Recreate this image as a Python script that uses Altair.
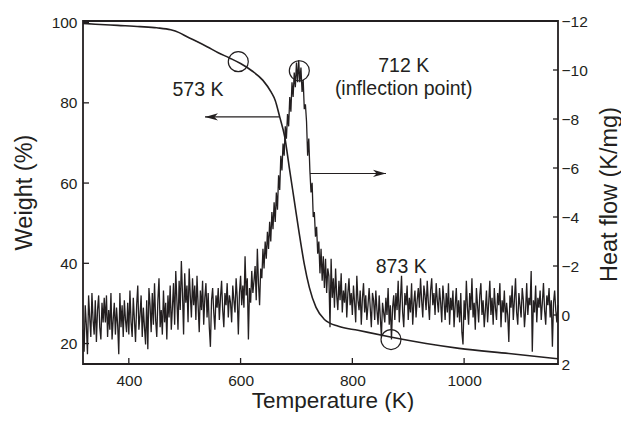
import altair as alt
import pandas as pd

INK = "#231f20"
FONT = "Liberation Sans"

# ---- Heat flow trace (K/mg), every 2 K starting at 318 K ----
HF_T_START = 318
HF_T_STEP = 2
heat_flow = [
    0.6, 1.5, -0.4, 0.4, 1.6, -0.8, 0.1, 0.9, -0.9, 0.2, 0.8, -0.6, 1.1, -0.2, -0.8, 0.5, 1.0, -0.5, 0.3, -0.7,
    0.3, -0.8, 0.9, -0.2, 0.6, -0.9, 1.0, 0.2, -0.5, 0.8, -0.3, 0.4, 1.6, -0.9, 0.5, -0.4, 0.9, -0.6, 0.2, 0.7,
    -0.5, 0.8, -1.0, 0.3, 0.9, -0.7, 0.2, 1.1, -0.4, -1.2, 0.6, 0.0, -0.8, 0.9, -0.3, 0.5, 1.2, -0.6, 1.4, -1.1,
    -0.4, 0.7, -0.9, 0.4, -1.3, 0.2, 0.9, -0.6, -1.5, 0.5, -0.2, 0.8, -1.0, 0.3, -0.5, 1.0, -0.8, 0.1, -1.2, 0.6,
    -0.3, -1.3, 0.4, -1.8, -0.6, 0.6, -1.4, -0.2, -2.2, -0.9, 0.8, -1.7, -0.5, -1.2, 0.3, -1.9, -0.8, 0.1, -1.5, -0.4,
    -1.2, 0.2, -1.6, -0.4, 0.7, -1.0, -0.2, -1.4, 0.4, -0.7, -1.3, 0.1, -0.9, 0.5, 1.3, -0.6, -1.1, -0.1, 0.6, -0.8,
    -0.3, -1.1, 0.2, -0.7, -1.4, -0.2, 0.5, -0.9, -0.4, -1.3, 0.1, -0.8, -0.5, 0.3, -1.2, -0.6, -0.1, -1.5, -0.7, 0.8,
    -0.9, -1.6, -0.4, -1.2, -0.3, -2.4, -0.8, -1.5, 1.0, -1.1, -0.5, -1.8, -0.9, -1.4, -2.0, -0.6, -2.7, -1.3, -0.4, -1.9,
    -1.5, -2.7, -1.9, -3.0, -2.3, -3.4, -2.7, -3.8, -3.0, -4.2, -3.5, -4.6, -3.8, -5.0, -4.3, -5.7, -5.1, -6.5, -5.9, -7.0,
    -6.5, -7.7, -7.2, -8.2, -7.7, -8.9, -8.3, -9.5, -8.9, -9.9, -9.3, -10.3, -9.5, -10.4, -9.5, -10.1, -9.1, -9.6, -8.4, -8.6,
    -7.9, -6.5, -7.2, -5.9, -5.0, -5.4, -4.0, -4.2, -3.2, -3.6, -2.5, -3.0, -1.7, -2.7, -1.4, -2.4, -1.1, -2.3, -0.9, -1.9,
    -1.6, 0.5, -2.3, -0.7, -1.5, -0.3, -1.9, -0.8, -0.2, -1.4, -0.6, -1.7, -0.1, -1.0, -0.5, -1.3, 0.1, -0.9, -1.5, -0.4,
    -0.9, 0.0, -1.2, -0.5, 0.3, -1.6, -0.6, -0.2, -1.0, 0.4, -0.7, -1.3, -0.1, -0.8, 0.2, -0.4, -1.1, -0.3, 0.5, -0.9,
    -0.6, 0.2, -1.0, -0.2, 0.4, -0.8, 0.1, 0.9, -0.5, -0.1, 0.3, -0.7, 0.0, -1.1, 0.4, -0.4, 1.0, -0.3, -0.8, 0.2,
    -0.9, -0.2, -1.4, 0.3, -0.6, -1.6, -0.1, 0.5, -0.9, -0.4, -1.2, 0.2, -0.7, -0.1, -1.3, 0.4, -0.5, -1.0, 0.1, -0.6,
    -1.1, -0.3, -1.5, -0.6, 0.1, -1.2, -0.8, -0.2, -1.4, -0.5, 0.2, -1.0, -1.5, -0.4, -0.9, 0.0, -1.3, -0.6, -0.1, -1.1,
    -0.5, 0.3, -1.2, -0.6, 0.2, -0.9, -0.1, -1.3, 0.4, -0.7, -0.2, -1.0, 0.5, -0.4, -1.1, 0.1, -0.6, 0.3, -0.9, 0.7,
    1.2, -0.6, 0.2, -1.4, -0.3, 0.4, -0.9, -0.2, -1.5, 0.1, -0.5, 0.6, -1.1, -0.4, 0.3, -0.8, -1.3, 0.0, -0.6, 0.5,
    -0.2, -1.0, 0.3, -0.5, -1.4, 0.0, -0.7, 0.4, -1.1, -0.3, 0.2, -0.9, -0.4, -1.3, 0.5, -0.6, -0.1, -1.0, 0.3, -0.5,
    0.0, 1.1, -0.8, -0.3, -1.2, 0.2, -0.6, -1.5, -0.1, 0.4, -0.9, -0.4, 0.1, -1.1, -0.6, 0.5, -0.2, -1.3, 0.0, -0.7,
    -0.4, -1.8, 1.5, -0.6, -0.1, -1.2, 0.3, -0.7, -0.3, -1.0, 0.2, -0.5, -1.3, -0.2, 0.4, -0.8, -0.4, -1.1, 0.1, -0.6,
    1.3, -0.5, -1.0, -0.2, 0.3, -0.4,
]
heat_flow_T = [HF_T_START + HF_T_STEP * i for i in range(len(heat_flow))]

# ---- Weight (TG) curve ----
weight_T = [318, 340, 380, 420, 450, 475, 490, 505, 520, 540, 560, 580, 600, 620, 640, 655, 662,
            670, 679, 687, 696, 705, 714, 723, 735, 750, 775, 810, 866, 932, 991, 1080, 1168]
weight_pct = [99.8, 99.6, 99.3, 99.0, 98.7, 98.2, 97.5, 96.4, 95.4, 94.0, 92.5, 91.2, 89.8, 88.0, 85.6, 82.6, 80.6,
              76.5, 71.5, 64.0, 55.7, 47.4, 39.8, 34.0, 29.0, 26.0, 24.3, 23.3, 21.7, 20.0, 18.8, 17.5, 16.2]

# ---- Axes ----
x_domain = [318, 1168]
w_domain = [14.9, 100.4]
hf_domain = [-12, 2]
x_ticks = [400, 600, 800, 1000]
w_ticks = [20, 40, 60, 80, 100]
hf_ticks = [-12, -10, -8, -6, -4, -2, 0, 2]

# ---- Annotations (data coordinates) ----
circle_w_T = [595.9, 869.2]
circle_w_val = [90.25, 21.0]
circle_hf_T = [705.1]
circle_hf_val = [-9.97]
arrow_T_start = [536.3, 724.2]
arrow_T_end = [670.5, 860.2]
arrow_w = [76.5, 62.4]
label_text = ["573 K", "712 K", "(inflection point)", "873 K"]
label_T = [523.8, 891.9, 891.9, 887.4]
label_w = [83.2, 89.3, 83.5, 39.2]

W, H = 475, 343

hf_df = pd.DataFrame({"T": heat_flow_T, "hf": heat_flow})
w_df = pd.DataFrame({"T": weight_T, "w": weight_pct})

xs = alt.Scale(domain=x_domain, nice=False, zero=False)
ws = alt.Scale(domain=w_domain, nice=False, zero=False)
hs = alt.Scale(domain=hf_domain, nice=False, zero=False, reverse=True)

x_axis = alt.Axis(values=x_ticks, format="d", title="Temperature (K)", labelPadding=9, ticks=False,
                  domain=False, grid=False, titleX=249.5, titleY=43, titleFontSize=22.5,
                  titleBaseline="alphabetic", titleAlign="center")
w_axis = alt.Axis(values=w_ticks, format="d", title="Weight (%)", orient="left", labelPadding=6, ticks=False,
                  domain=False, grid=False, titleAngle=270, titleX=-51.5, titleY=171,
                  titleBaseline="alphabetic", titleAlign="center")
hf_axis = alt.Axis(values=hf_ticks, format="d", title="Heat flow (K/mg)", orient="right", labelPadding=3,
                   ticks=False, domain=False, grid=False, titleAngle=270, titleX=58, titleY=173,
                   titleBaseline="alphabetic", titleAlign="center")

# every layer carries the identical x axis so the shared axis merges cleanly
X = alt.X("T:Q", scale=xs, axis=x_axis)
YW = alt.Y("w:Q", scale=ws, axis=None)
YH = alt.Y("hf:Q", scale=hs, axis=None)

weight_line = alt.Chart(w_df).mark_line(color=INK, strokeWidth=1.6, interpolate="monotone").encode(
    x=X,
    y=alt.Y("w:Q", scale=ws, axis=w_axis),
)

hf_line = alt.Chart(hf_df).mark_line(color=INK, strokeWidth=1.3).encode(
    x=X,
    y=alt.Y("hf:Q", scale=hs, axis=hf_axis),
)

x_tick_rules = alt.Chart(pd.DataFrame({"T": x_ticks})).mark_rule(color=INK, strokeWidth=1.3).encode(
    x=X, y=alt.value(H), y2=alt.value(H - 6)
)
w_tick_rules = alt.Chart(pd.DataFrame({"w": w_ticks})).mark_rule(color=INK, strokeWidth=1.3).encode(
    y=YW, x=alt.value(0), x2=alt.value(6)
)
hf_tick_rules = alt.Chart(pd.DataFrame({"hf": hf_ticks})).mark_rule(color=INK, strokeWidth=1.3).encode(
    y=YH, x=alt.value(W), x2=alt.value(W - 5)
)

circles_w = alt.Chart(pd.DataFrame({"T": circle_w_T, "w": circle_w_val})).mark_point(
    shape="circle", size=400, filled=False, color=INK, strokeWidth=1.2, opacity=1
).encode(x=X, y=YW)

circle_hf = alt.Chart(pd.DataFrame({"T": circle_hf_T, "hf": circle_hf_val})).mark_point(
    shape="circle", size=400, filled=False, color=INK, strokeWidth=1.2, opacity=1
).encode(x=X, y=YH)

arrows = alt.Chart(pd.DataFrame({"T": arrow_T_start, "T2": arrow_T_end, "w": arrow_w})).mark_rule(
    color=INK, strokeWidth=1.1
).encode(x=X, x2="T2:Q", y=YW)

left_head = alt.Chart(pd.DataFrame({"T": [arrow_T_start[0]], "w": [arrow_w[0]]})).mark_point(
    shape="M-1,0L1,-0.55L0.45,0L1,0.55Z", size=169, filled=True, color=INK, opacity=1, xOffset=6.5
).encode(x=X, y=YW)

right_head = alt.Chart(pd.DataFrame({"T": [arrow_T_end[1]], "w": [arrow_w[1]]})).mark_point(
    shape="M1,0L-1,-0.55L-0.45,0L-1,0.55Z", size=169, filled=True, color=INK, opacity=1, xOffset=-6.5
).encode(x=X, y=YW)

labels = alt.Chart(pd.DataFrame({"T": label_T, "w": label_w, "label": label_text})).mark_text(
    font=FONT, fontSize=19.5, color=INK, align="center", baseline="middle"
).encode(x=X, y=YW, text="label:N")

chart = alt.layer(
    weight_line, hf_line, x_tick_rules, w_tick_rules, hf_tick_rules,
    circles_w, circle_hf, arrows, left_head, right_head, labels,
).resolve_scale(y="independent").properties(
    width=W, height=H,
    autosize=alt.AutoSizeParams(type="none"),
    padding={"left": 75, "top": 13, "right": 63, "bottom": 48},
    background="white",
).configure_view(stroke=INK, strokeWidth=1.8).configure_axis(
    labelFont=FONT, labelFontSize=15.5, labelColor=INK,
    titleFont=FONT, titleFontSize=23.5, titleFontWeight="normal", titleColor=INK,
)

chart.save("out.html", embed_options={"renderer": "svg", "actions": False})
